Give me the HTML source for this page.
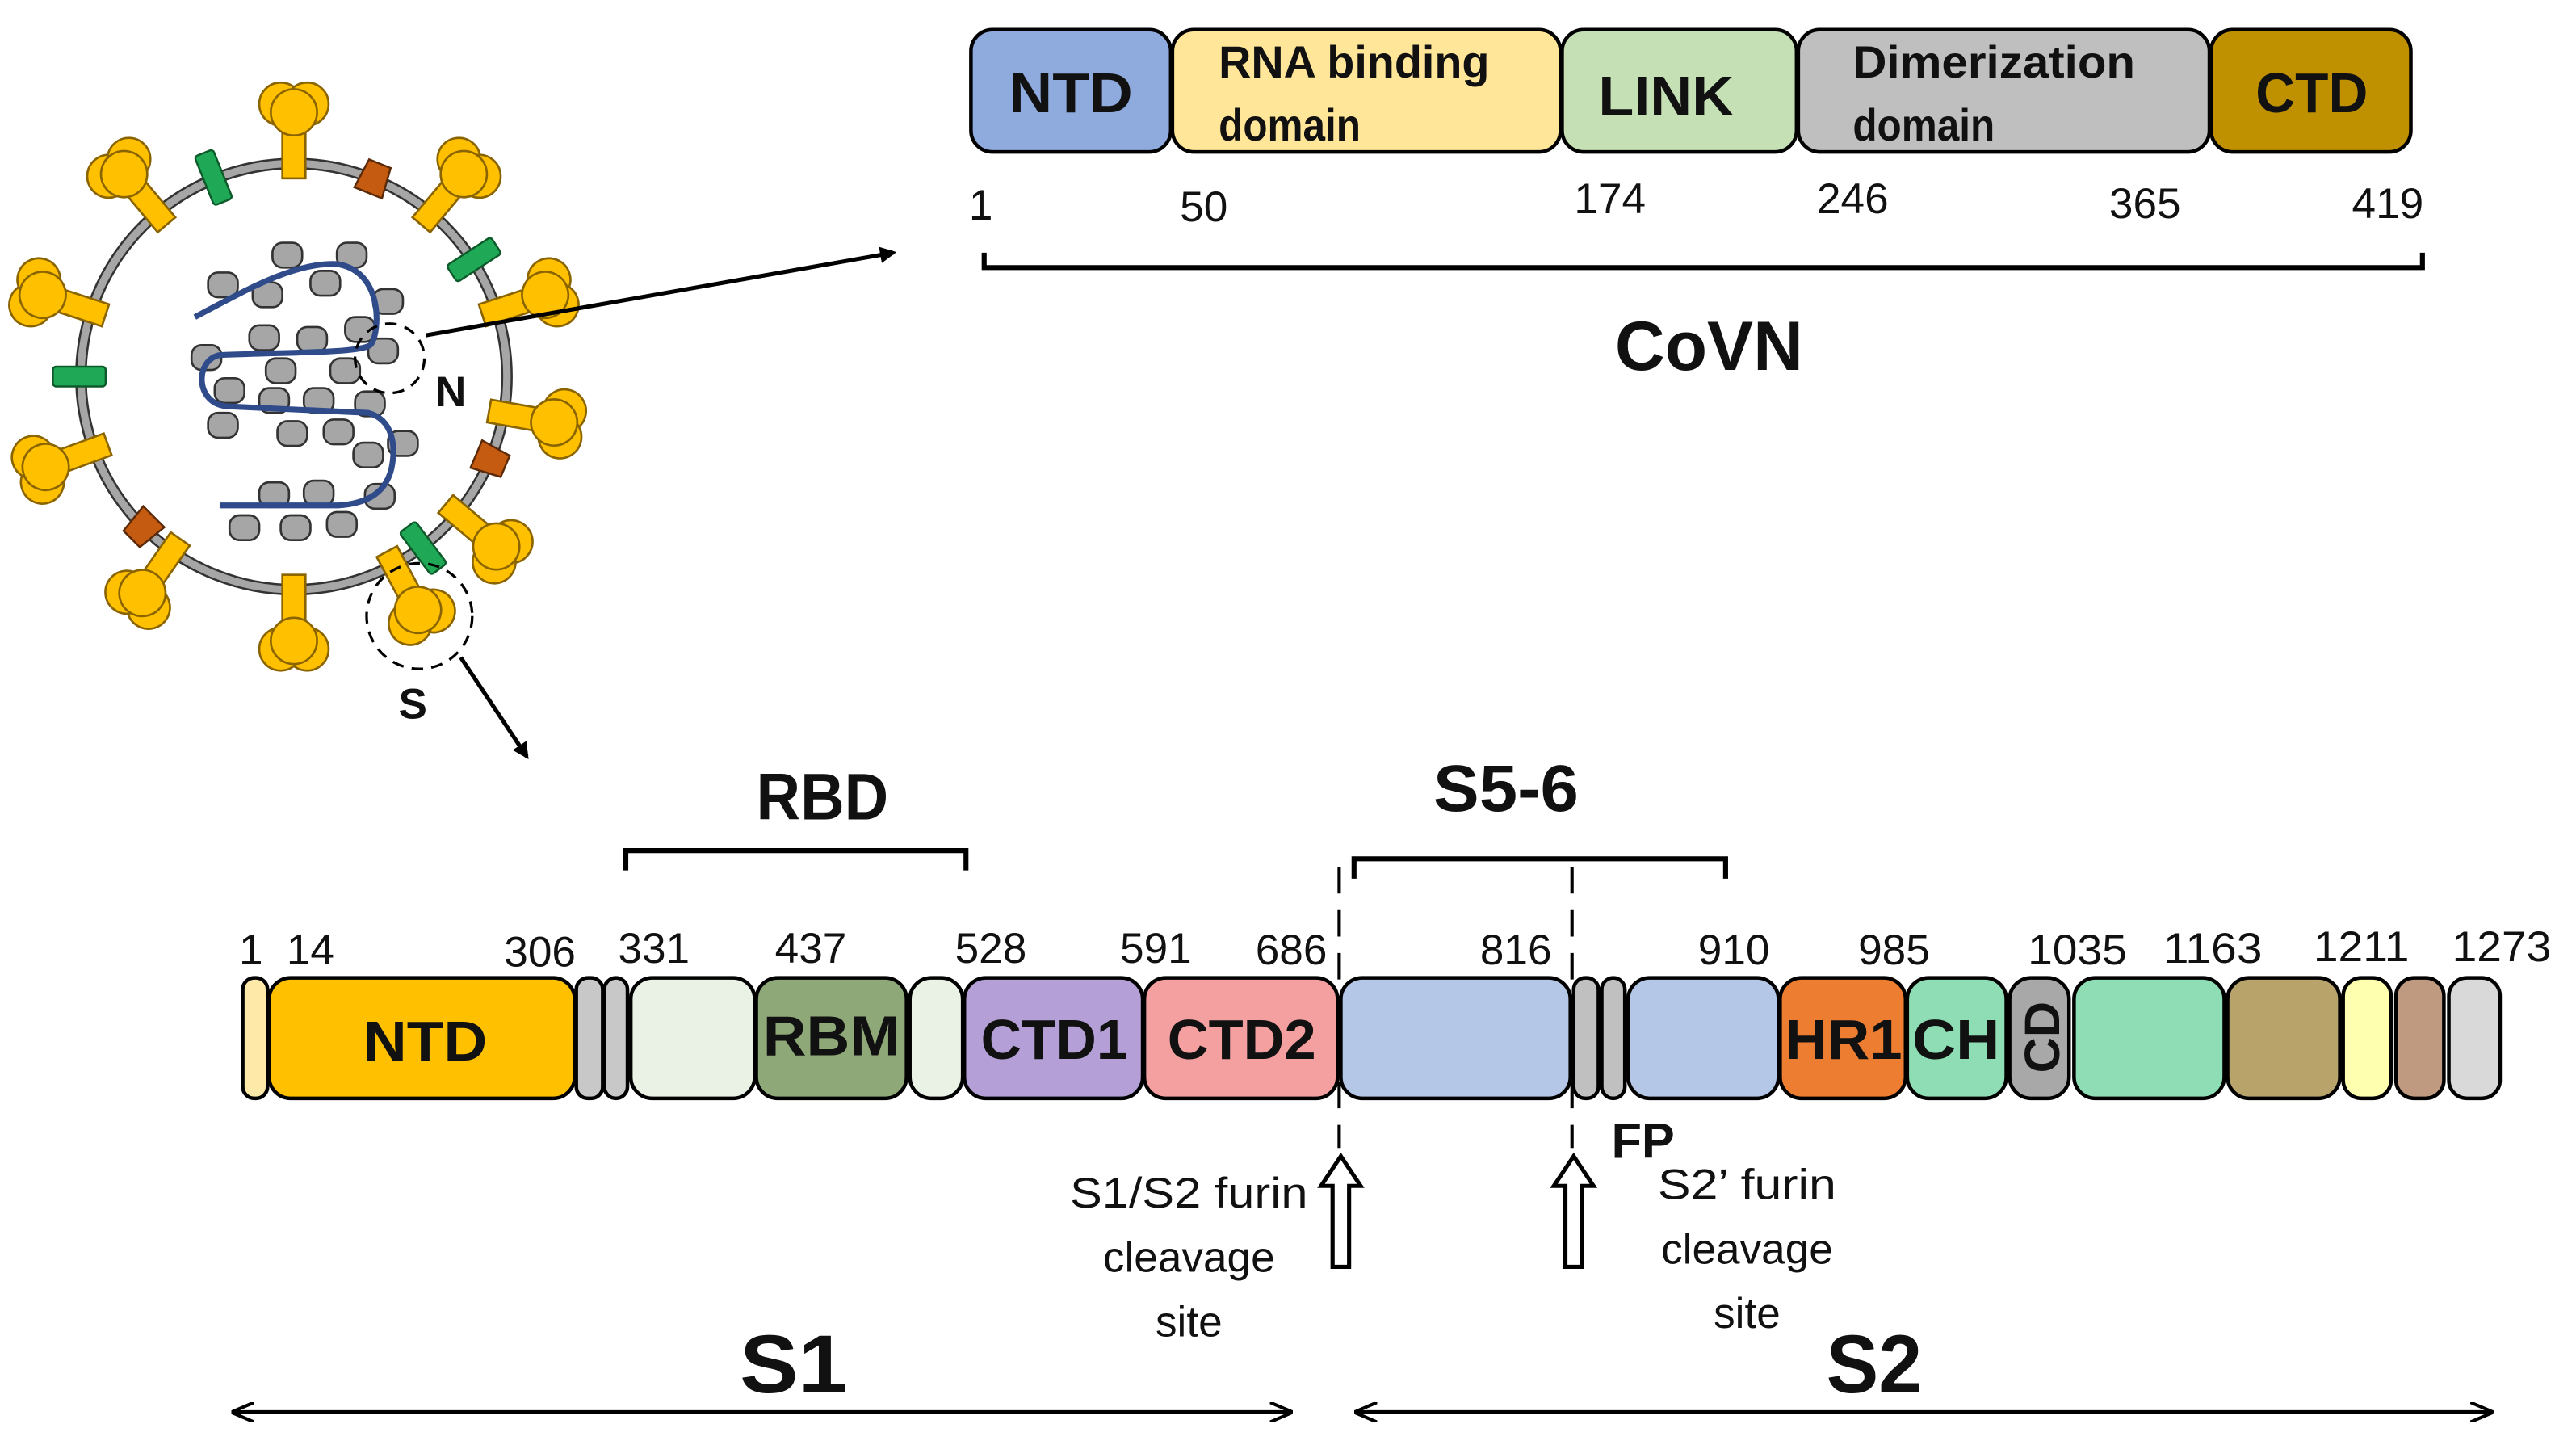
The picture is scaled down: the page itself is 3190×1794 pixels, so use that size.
<!DOCTYPE html>
<html><head><meta charset="utf-8"><style>
html,body{margin:0;padding:0;background:#fff}
svg{display:block}
text{font-family:"Liberation Sans",sans-serif;fill:#111}
</style></head><body>
<svg width="3190" height="1794" viewBox="0 0 1560 877.3" preserveAspectRatio="none" xmlns="http://www.w3.org/2000/svg">
<defs>
<g id="sp">
<rect x="-7" y="-154" width="14" height="34" fill="#FFC000" stroke="#8a6400" stroke-width="1.3"/>
<circle cx="-8" cy="-165" r="13" fill="#FFC000" stroke="#8a6400" stroke-width="1.3"/>
<circle cx="8" cy="-165" r="13" fill="#FFC000" stroke="#8a6400" stroke-width="1.3"/>
<circle cx="0" cy="-160" r="14" fill="#FFC000" stroke="#8a6400" stroke-width="1.3"/>
</g>
<g id="gr"><rect x="-6" y="-146" width="12" height="32" rx="2" fill="#1FA855" stroke="#0d5a2a" stroke-width="1.2"/></g>
<g id="or"><path d="M-7,-139 L7,-139 L9,-120 L-9,-120 Z" fill="#C55A11" stroke="#5a2a08" stroke-width="1.2"/></g>
<marker id="ah" markerWidth="10" markerHeight="10" refX="8" refY="5" orient="auto" markerUnits="userSpaceOnUse"><path d="M0,0 L10,5 L0,10 Z" fill="#000"/></marker>
<marker id="ahs" markerWidth="14" markerHeight="12" refX="12" refY="6" orient="auto-start-reverse" markerUnits="userSpaceOnUse"><path d="M0,0 L14,6 L0,12" fill="none" stroke="#000" stroke-width="2"/></marker>
</defs>

<!-- virus -->
<circle cx="178" cy="228" r="129" fill="#fff" stroke="#333" stroke-width="7"/>
<circle cx="178" cy="228" r="129" fill="none" stroke="#A6A6A6" stroke-width="4.5"/>
<g transform="translate(178,228)">
<use href="#sp" transform="rotate(0)"/>
<use href="#sp" transform="rotate(40)"/>
<use href="#sp" transform="rotate(72)"/>
<use href="#sp" transform="rotate(100)"/>
<use href="#sp" transform="rotate(130)"/>
<use href="#sp" transform="rotate(152)"/>
<use href="#sp" transform="rotate(180)"/>
<use href="#sp" transform="rotate(215)"/>
<use href="#sp" transform="rotate(250)"/>
<use href="#sp" transform="rotate(288)"/>
<use href="#sp" transform="rotate(320)"/>
<use href="#gr" transform="rotate(-22)"/>
<use href="#gr" transform="rotate(57)"/>
<use href="#gr" transform="rotate(270)"/>
<use href="#gr" transform="rotate(143)"/>
<use href="#or" transform="rotate(22)"/>
<use href="#or" transform="rotate(113)"/>
<use href="#or" transform="rotate(225)"/>
</g>
<g fill="#A6A6A6" stroke="#333" stroke-width="1.3">
<rect x="165" y="147" width="18" height="15" rx="6"/><rect x="204" y="147" width="18" height="15" rx="6"/>
<rect x="126" y="165" width="18" height="15" rx="6"/><rect x="153" y="171" width="18" height="15" rx="6"/>
<rect x="188" y="164" width="18" height="15" rx="6"/><rect x="226" y="175" width="18" height="15" rx="6"/>
<rect x="209" y="192" width="18" height="15" rx="6"/><rect x="151" y="197" width="18" height="15" rx="6"/>
<rect x="180" y="198" width="18" height="15" rx="6"/><rect x="116" y="209" width="18" height="15" rx="6"/>
<rect x="223" y="205" width="18" height="15" rx="6"/><rect x="161" y="217" width="18" height="15" rx="6"/>
<rect x="200" y="217" width="18" height="15" rx="6"/><rect x="130" y="229" width="18" height="15" rx="6"/>
<rect x="157" y="235" width="18" height="15" rx="6"/><rect x="184" y="235" width="18" height="15" rx="6"/>
<rect x="215" y="237" width="18" height="15" rx="6"/><rect x="126" y="250" width="18" height="15" rx="6"/>
<rect x="168" y="255" width="18" height="15" rx="6"/><rect x="196" y="254" width="18" height="15" rx="6"/>
<rect x="235" y="261" width="18" height="15" rx="6"/><rect x="214" y="268" width="18" height="15" rx="6"/>
<rect x="157" y="292" width="18" height="15" rx="6"/><rect x="184" y="291" width="18" height="15" rx="6"/>
<rect x="221" y="293" width="18" height="15" rx="6"/><rect x="139" y="312" width="18" height="15" rx="6"/>
<rect x="170" y="312" width="18" height="15" rx="6"/><rect x="198" y="310" width="18" height="15" rx="6"/>
</g>
<path d="M118,192 C150,175 180,158 205,160 C232,165 230,200 225,208 C222,214 180,213 133,215 C118,218 118,244 137,246 L223,250 C238,254 240,270 237,284 C233,300 220,305 205,306 L133,306" fill="none" stroke="#2F4B8A" stroke-width="3.5"/>
<circle cx="236" cy="217" r="21" fill="none" stroke="#000" stroke-width="1.6" stroke-dasharray="7,5"/>
<circle cx="254" cy="373" r="32" fill="none" stroke="#000" stroke-width="1.6" stroke-dasharray="7,5"/>
<text x="273" y="246" font-size="26" font-weight="bold" text-anchor="middle">N</text>
<text x="250" y="435" font-size="26" font-weight="bold" text-anchor="middle">S</text>
<line x1="258" y1="203" x2="541" y2="153" stroke="#000" stroke-width="2.5" marker-end="url(#ah)"/>
<line x1="279" y1="398" x2="319" y2="458" stroke="#000" stroke-width="2.5" marker-end="url(#ah)"/>

<!-- N protein -->
<g stroke="#000" stroke-width="2.2">
<rect x="588" y="18" width="121" height="74" rx="13" fill="#8FAADC"/>
<rect x="710" y="18" width="235" height="74" rx="13" fill="#FFE699"/>
<rect x="946" y="18" width="142" height="74" rx="13" fill="#C5E0B4"/>
<rect x="1089" y="18" width="249" height="74" rx="13" fill="#BFBFBF"/>
<rect x="1339" y="18" width="121" height="74" rx="13" fill="#BF9000"/>
</g>
<g font-weight="bold">
<text x="611" y="68" font-size="34" textLength="75" lengthAdjust="spacingAndGlyphs">NTD</text>
<text x="738" y="47" font-size="27" textLength="164" lengthAdjust="spacingAndGlyphs">RNA binding</text>
<text x="738" y="85" font-size="27" textLength="86" lengthAdjust="spacingAndGlyphs">domain</text>
<text x="968" y="70" font-size="34" textLength="82" lengthAdjust="spacingAndGlyphs">LINK</text>
<text x="1122" y="47" font-size="27" textLength="171" lengthAdjust="spacingAndGlyphs">Dimerization</text>
<text x="1122" y="85" font-size="27" textLength="86" lengthAdjust="spacingAndGlyphs">domain</text>
<text x="1366" y="68" font-size="34" textLength="68" lengthAdjust="spacingAndGlyphs">CTD</text>
</g>
<g font-size="26" text-anchor="middle">
<text x="594" y="133">1</text><text x="729" y="134">50</text><text x="975" y="129">174</text>
<text x="1122" y="129">246</text><text x="1299" y="132">365</text><text x="1446" y="132">419</text>
</g>
<path d="M596,153 V162 H1467 V153" fill="none" stroke="#000" stroke-width="3"/>
<text x="978" y="224" font-size="42" font-weight="bold" textLength="114" lengthAdjust="spacingAndGlyphs">CoVN</text>

<!-- S protein -->
<text x="458" y="496" font-size="40" font-weight="bold" textLength="80" lengthAdjust="spacingAndGlyphs">RBD</text>
<path d="M379,527 V515 H585 V527" fill="none" stroke="#000" stroke-width="3"/>
<text x="868" y="491" font-size="40" font-weight="bold" textLength="88" lengthAdjust="spacingAndGlyphs">S5-6</text>
<path d="M820,532 V520 H1045 V532" fill="none" stroke="#000" stroke-width="3"/>
<line x1="811" y1="525" x2="811" y2="695" stroke="#000" stroke-width="2" stroke-dasharray="16,10"/>
<line x1="952" y1="525" x2="952" y2="695" stroke="#000" stroke-width="2" stroke-dasharray="16,10"/>

<g font-size="26" text-anchor="middle">
<text x="152" y="584">1</text><text x="188" y="584">14</text><text x="327" y="585">306</text>
<text x="396" y="583">331</text><text x="491" y="583">437</text><text x="600" y="583">528</text>
<text x="700" y="583">591</text><text x="782" y="584">686</text><text x="918" y="584">816</text>
<text x="1050" y="584">910</text><text x="1147" y="584">985</text>
<text x="1258" y="584" textLength="60" lengthAdjust="spacingAndGlyphs">1035</text>
<text x="1340" y="583" textLength="60" lengthAdjust="spacingAndGlyphs">1163</text>
<text x="1430" y="582" textLength="58" lengthAdjust="spacingAndGlyphs">1211</text>
<text x="1515" y="582" textLength="60" lengthAdjust="spacingAndGlyphs">1273</text>
</g>
<g stroke="#000" stroke-width="2.2">
<rect x="147" y="592" width="15" height="73" rx="7" fill="#FFE9A8"/>
<rect x="163" y="592" width="185" height="73" rx="13" fill="#FFC000"/>
<rect x="349" y="592" width="16" height="73" rx="7" fill="#C8C8C8"/>
<rect x="366" y="592" width="14" height="73" rx="7" fill="#C8C8C8"/>
<rect x="382" y="592" width="75" height="73" rx="13" fill="#E9F2E4"/>
<rect x="458" y="592" width="91" height="73" rx="13" fill="#8FA878"/>
<rect x="551" y="592" width="32" height="73" rx="13" fill="#E9F2E4"/>
<rect x="584" y="592" width="108" height="73" rx="13" fill="#B4A0D6"/>
<rect x="693" y="592" width="117" height="73" rx="13" fill="#F5A0A0"/>
<rect x="812" y="592" width="139" height="73" rx="13" fill="#B4C7E7"/>
<rect x="953" y="592" width="15" height="73" rx="7" fill="#C0C0C0"/>
<rect x="970" y="592" width="14" height="73" rx="7" fill="#C0C0C0"/>
<rect x="986" y="592" width="91" height="73" rx="13" fill="#B4C7E7"/>
<rect x="1078" y="592" width="76" height="73" rx="13" fill="#ED7D31"/>
<rect x="1155" y="592" width="60" height="73" rx="13" fill="#8FDDB4"/>
<rect x="1217" y="592" width="36" height="73" rx="13" fill="#A8A8A8"/>
<rect x="1256" y="592" width="91" height="73" rx="13" fill="#8FDDB4"/>
<rect x="1349" y="592" width="68" height="73" rx="13" fill="#B8A46A"/>
<rect x="1419" y="592" width="29" height="73" rx="11" fill="#FFFFB0"/>
<rect x="1451" y="592" width="29" height="73" rx="11" fill="#C09A80"/>
<rect x="1483" y="592" width="31" height="73" rx="11" fill="#D9D9D9"/>
</g>
<g font-weight="bold" font-size="34">
<text x="220" y="642" textLength="75" lengthAdjust="spacingAndGlyphs">NTD</text>
<text x="462" y="639" textLength="83" lengthAdjust="spacingAndGlyphs">RBM</text>
<text x="594" y="641" textLength="89" lengthAdjust="spacingAndGlyphs">CTD1</text>
<text x="707" y="641" textLength="90" lengthAdjust="spacingAndGlyphs">CTD2</text>
<text x="1081" y="641" textLength="71" lengthAdjust="spacingAndGlyphs">HR1</text>
<text x="1158" y="641" textLength="53" lengthAdjust="spacingAndGlyphs">CH</text>
<text transform="translate(1247,628) rotate(-90)" font-size="30" text-anchor="middle">CD</text>
</g>

<!-- cleavage arrows -->
<path d="M807,767 V718 H800 L812,700 L824,718 H817 V767 Z" fill="#fff" stroke="#000" stroke-width="2.5"/>
<path d="M948,767 V718 H941 L953,700 L965,718 H958 V767 Z" fill="#fff" stroke="#000" stroke-width="2.5"/>
<g font-size="26" text-anchor="middle">
<text x="720" y="731" textLength="144" lengthAdjust="spacingAndGlyphs">S1/S2 furin</text><text x="720" y="770">cleavage</text><text x="720" y="809">site</text>
<text x="1058" y="726" textLength="108" lengthAdjust="spacingAndGlyphs">S2’ furin</text><text x="1058" y="765">cleavage</text><text x="1058" y="804">site</text>
</g>
<text x="995" y="701" font-size="30" font-weight="bold" text-anchor="middle">FP</text>

<text x="448" y="843" font-size="50" font-weight="bold" textLength="65" lengthAdjust="spacingAndGlyphs">S1</text>
<text x="1106" y="843" font-size="50" font-weight="bold" textLength="58" lengthAdjust="spacingAndGlyphs">S2</text>
<line x1="142" y1="855" x2="781" y2="855" stroke="#000" stroke-width="2.5" marker-start="url(#ahs)" marker-end="url(#ahs)"/>
<line x1="822" y1="855" x2="1508" y2="855" stroke="#000" stroke-width="2.5" marker-start="url(#ahs)" marker-end="url(#ahs)"/>
</svg>
</body></html>
